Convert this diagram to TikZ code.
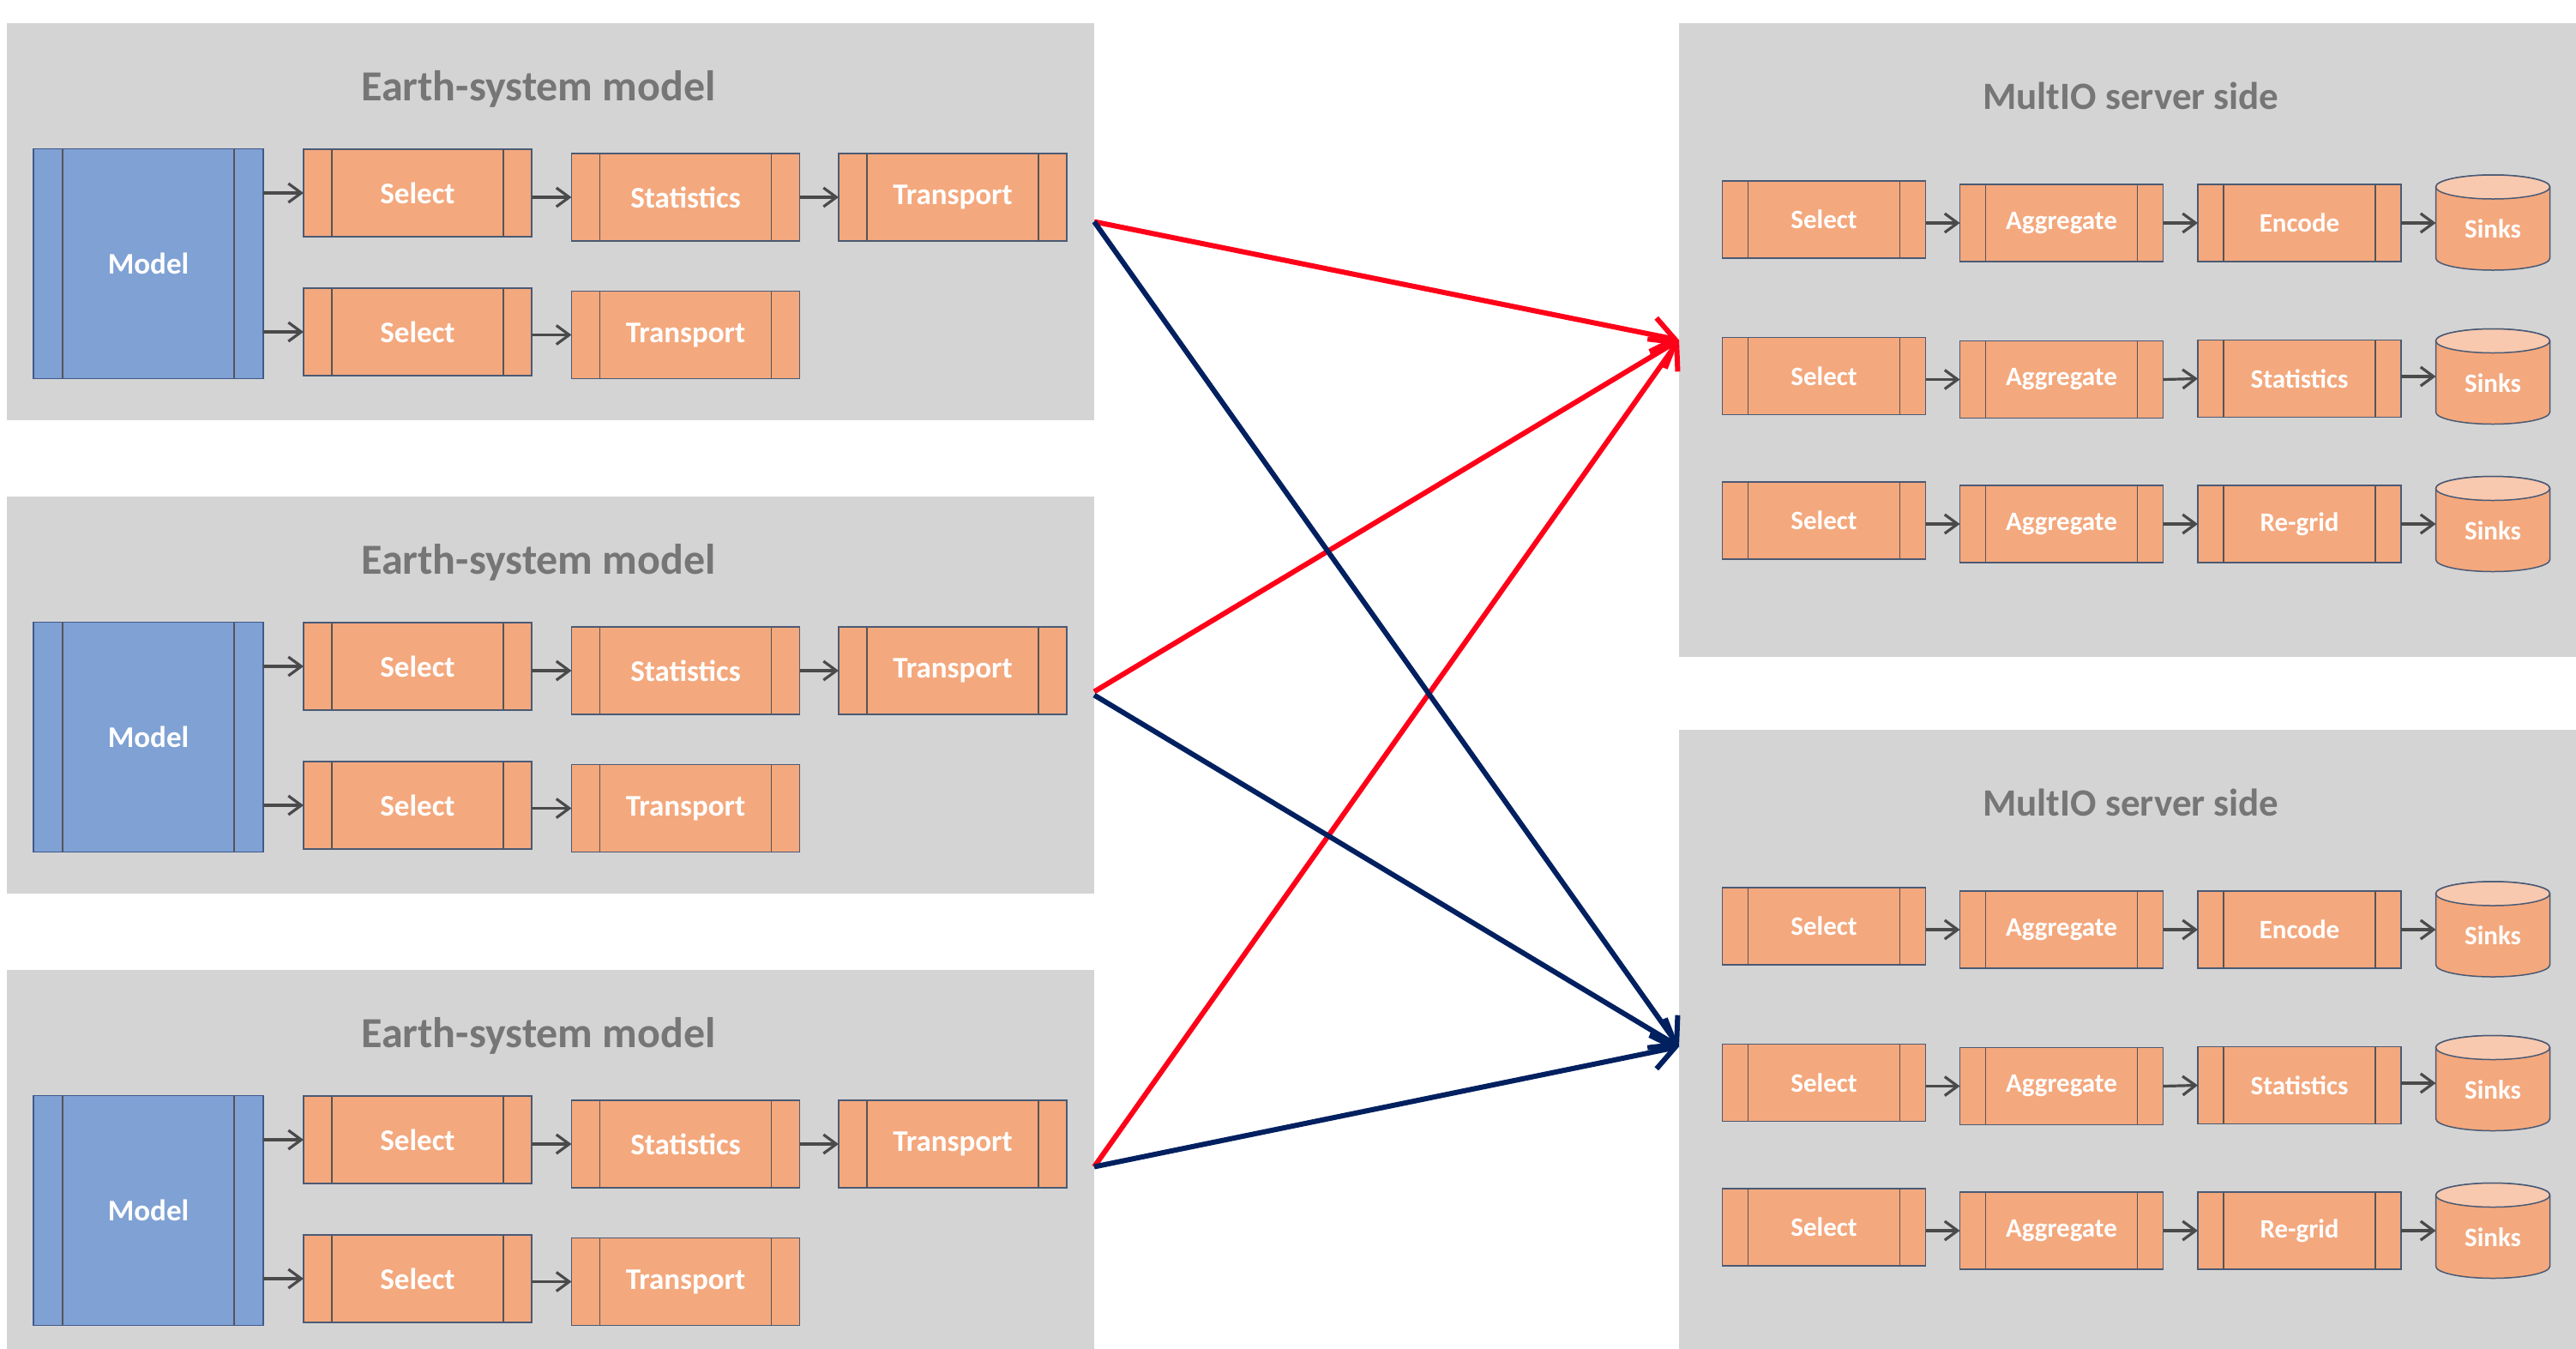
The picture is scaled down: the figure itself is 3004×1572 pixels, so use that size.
\documentclass[tikz,border=0pt]{standalone}
\usepackage{fontspec}
\setmainfont{Carlito}
\usetikzlibrary{arrows.meta}
\definecolor{panelgray}{HTML}{D4D4D4}
\definecolor{boxorange}{HTML}{F4A87D}
\definecolor{cyltopc}{HTML}{F8C9AF}
\definecolor{modelblue}{HTML}{7FA1D4}
\definecolor{modeledge}{HTML}{41598B}
\definecolor{edgec}{HTML}{4A5A74}
\definecolor{barc}{HTML}{555555}
\definecolor{titlegray}{HTML}{767676}
\definecolor{arrowgray}{HTML}{4A4A4A}
\definecolor{redc}{HTML}{FF0019}
\definecolor{bluec}{HTML}{002060}
\begin{document}
\begin{tikzpicture}[x=1pt,y=-1pt,
  panel/.style={rectangle,fill=panelgray,draw=none,inner sep=0pt,outer sep=0pt},
  ttl/.style={text=titlegray,font=\fontsize{50}{60}\selectfont\bfseries,inner sep=0pt,anchor=base},
  rttl/.style={ttl,font=\fontsize{45}{54}\selectfont\bfseries},
  barline/.style={draw=barc,line width=1.3pt},
  bars/.style={path picture={
     \draw[barline] ([xshift=#1]path picture bounding box.north west) -- ([xshift=#1]path picture bounding box.south west);
     \draw[barline] ([xshift=-#1]path picture bounding box.north east) -- ([xshift=-#1]path picture bounding box.south east);}},
  procbase/.style={rectangle,draw=edgec,line width=1.5pt,inner sep=0pt,outer sep=0pt,text=white},
  lproc/.style={procbase,fill=boxorange,minimum width=266pt,minimum height=102pt,
     font=\fontsize{35}{42}\selectfont\bfseries,bars=33pt},
  rproc/.style={procbase,fill=boxorange,minimum width=237pt,minimum height=90pt,
     font=\fontsize{31}{37}\selectfont\bfseries,bars=30pt},
  modelbox/.style={procbase,fill=modelblue,draw=modeledge,minimum width=268pt,minimum height=268pt,
     font=\fontsize{35}{42}\selectfont\bfseries,bars=34pt},
  sinkn/.style={rectangle,draw=none,inner sep=0pt,outer sep=0pt,minimum width=133pt,minimum height=111pt,
     text=white,font=\fontsize{31}{37}\selectfont\bfseries,text height=36pt,text depth=0pt},
  cylbody/.style={fill=boxorange,draw=edgec,line width=1.5pt},
  cyltop/.style={fill=cyltopc,draw=edgec,line width=1.5pt},
  sarr/.style={draw=arrowgray,line width=3.2pt,-{Straight Barb[length=15pt,width=22pt]}},
  redarr/.style={draw=redc,line width=6pt,-{Straight Barb[length=26pt,width=40pt]}},
  bluearr/.style={draw=bluec,line width=6pt,-{Straight Barb[length=26pt,width=40pt]}}
]
\useasboundingbox (0,0) rectangle (3004,1572);
\clip (0,0) rectangle (3004,1572);

% panels
\node[panel,minimum width=1268pt,minimum height=463pt] (lp1) at (642,258.5) {};
\node[panel,minimum width=1268pt,minimum height=463pt] (lp2) at (642,810.5) {};
\node[panel,minimum width=1268pt,minimum height=463pt] (lp3) at (642,1362.5) {};
\node[panel,minimum width=1052pt,minimum height=739pt] (rp1) at (2484,396.5) {};
\node[panel,minimum width=1052pt,minimum height=739pt] (rp2) at (2484,1220.5) {};

% left panels
\foreach \dy/\k in {0/1,552/2,1104/3}{
  \node[ttl] (lt\k) at (628,117+\dy) {Earth-system model};
  \node[modelbox] (m\k) at (173,307.5+\dy) {Model};
  \node[lproc] (sa\k) at (487,225+\dy) {Select};
  \node[lproc] (st\k) at (799.5,230+\dy) {Statistics};
  \node[lproc] (ta\k) at (1111,230+\dy) {Transport};
  \node[lproc] (sb\k) at (487,387+\dy) {Select};
  \node[lproc] (tb\k) at (799.5,390.5+\dy) {Transport};
  \draw[sarr] (sa\k.west -| m\k.east) -- (sa\k.west);
  \draw[sarr] (sb\k.west -| m\k.east) -- (sb\k.west);
  \draw[sarr] (sa\k.east |- st\k.west) -- (st\k.west);
  \draw[sarr] (st\k.east) -- (ta\k.west);
  \draw[sarr] (sb\k.east |- tb\k.west) -- (tb\k.west);
}

% right panels
\foreach \dy/\k in {0/1,824/2}{
  \node[rttl] (rt\k) at (2485,127+\dy) {MultIO server side};
  % row 1
  \node[rproc] (ra\k) at (2127,256+\dy) {Select};
  \node[rproc] (rb\k) at (2404,260+\dy) {Aggregate};
  \node[rproc] (rc\k) at (2681.5,260+\dy) {Encode};
  % row 2
  \node[rproc] (rd\k) at (2127,438.5+\dy) {Select};
  \node[rproc] (re\k) at (2404,442.5+\dy) {Aggregate};
  \node[rproc] (rf\k) at (2681.5,441.5+\dy) {Statistics};
  % row 3
  \node[rproc] (rg\k) at (2127,607+\dy) {Select};
  \node[rproc] (rh\k) at (2404,611+\dy) {Aggregate};
  \node[rproc] (ri\k) at (2681.5,611+\dy) {Re-grid};
  % cylinders
  \foreach \cy/\n in {259.5/x,439/y,611/z}{
    \begin{scope}[shift={(2907,\cy+\dy)}]
      \path[cylbody] (-66.5,-41.5) -- (-66.5,41.5)
        arc[start angle=180,end angle=360,x radius=66.5pt,y radius=14pt]
        -- (66.5,-41.5)
        arc[start angle=0,end angle=180,x radius=66.5pt,y radius=14pt] -- cycle;
      \path[cyltop] (0,-41.5) ellipse[x radius=66.5pt,y radius=14pt];
    \end{scope}
    \node[sinkn] (s\n\k) at (2907,\cy+\dy) {Sinks};
  }
  \draw[sarr] (ra\k.east |- rb\k.west) -- (rb\k.west);
  \draw[sarr] (rb\k.east) -- (rc\k.west);
  \draw[sarr] (rc\k.east) -- (rc\k.east -| sx\k.west);
  \draw[sarr] (rd\k.east |- re\k.west) -- (re\k.west);
  \draw[sarr] (re\k.east) -- (rf\k.west);
  \draw[sarr] (rf\k.east |- sy\k.west) -- (sy\k.west);
  \draw[sarr] (rg\k.east |- rh\k.west) -- (rh\k.west);
  \draw[sarr] (rh\k.east) -- (ri\k.west);
  \draw[sarr] (ri\k.east) -- (ri\k.east -| sz\k.west);
}

% connections between panels (blue drawn above red)
\draw[redarr] (lp1.east) -- (rp1.west);
\draw[redarr] ([yshift=4pt]lp2.east) -- (rp1.west);
\draw[redarr] ([yshift=2pt]lp3.east) -- (rp1.west);
\draw[bluearr] (lp1.east) -- (rp2.west);
\draw[bluearr] (lp2.east) -- (rp2.west);
\draw[bluearr] ([yshift=2pt]lp3.east) -- (rp2.west);
\end{tikzpicture}
\end{document}
